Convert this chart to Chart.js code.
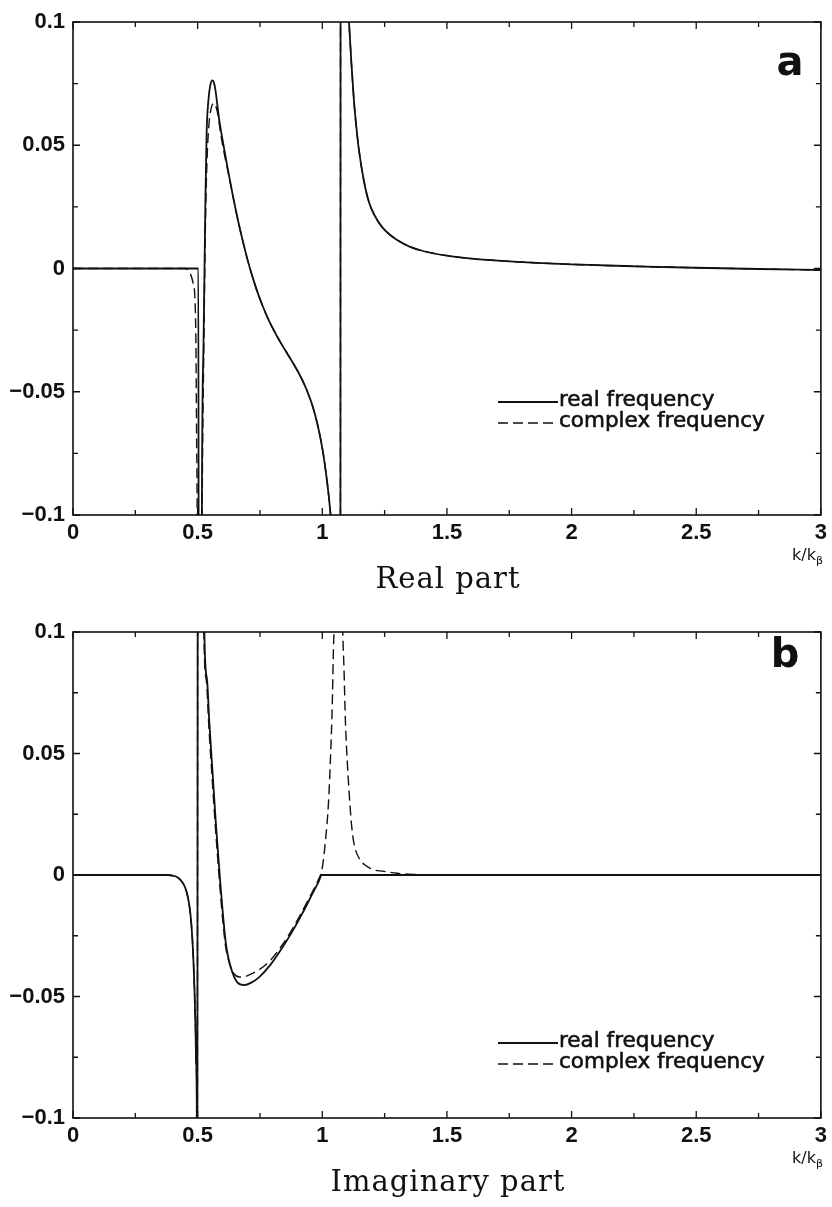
<!DOCTYPE html>
<html>
<head>
<meta charset="utf-8">
<script src="https://cdn.jsdelivr.net/npm/chart.js@4.4.1/dist/chart.umd.min.js"></script>
<style>
  body { margin: 0; background: #fff; }
  #page { position: relative; width: 832px; height: 1207px; overflow: hidden; background: #fff; }
  .panel { position: absolute; left: 0; width: 832px; height: 560px; }
  .caption { position: absolute; left: 73px; width: 750px; text-align: center; font-family: "DejaVu Serif", serif; font-size: 29px; letter-spacing: 1px; line-height: 30px; color: #111; }
  .unit { position: absolute; right: 9px; font-family: "DejaVu Sans", sans-serif; font-size: 16px; line-height: 18px; color: #111; }
  .unit sub { font-size: 11px; vertical-align: -4px; }
</style>
</head>
<body>
<div id="page">
  <div class="panel" style="top:0"><canvas id="realChart" width="832" height="560"></canvas></div>
  <div class="unit" style="top:546px">k/k<sub>β</sub></div>
  <div class="caption" style="top:563px">Real part</div>
  <div class="panel" style="top:600px"><canvas id="imagChart" width="832" height="560"></canvas></div>
  <div class="unit" style="top:1149px">k/k<sub>β</sub></div>
  <div class="caption" style="top:1166px">Imaginary part</div>
</div>
<script>
// axis ticks
const xTickValues = [0, 0.5, 1, 1.5, 2, 2.5, 3];
const xTickLabels = ['0', '0.5', '1', '1.5', '2', '2.5', '3'];
const xMinorValues = [0.25, 0.75, 1.25, 1.75, 2.25, 2.75];
const yTickValues = [-0.1, -0.05, 0, 0.05, 0.1];
const yTickLabels = ['\u22120.1', '\u22120.05', '0', '0.05', '0.1'];
const yMinorValues = [-0.075, -0.025, 0.025, 0.075];

const seriesNames = ['real frequency', 'complex frequency'];

// (a) real part, real frequency
const aSolidK = [0, 0.503, 0.5045, 0.515, 0.517, 0.524, 0.531, 0.536, 0.543, 0.551, 0.56, 0.566, 0.572, 0.578, 0.587, 0.6, 0.62, 0.64, 0.66, 0.68, 0.7, 0.72, 0.74, 0.76, 0.78, 0.8, 0.82, 0.84, 0.86, 0.88, 0.9, 0.92, 0.94, 0.96, 0.98, 1.0, 1.015, 1.027, 1.035, 1.045, 1.072, 1.074, 1.09, 1.107, 1.117, 1.127, 1.137, 1.147, 1.167, 1.187, 1.21, 1.24, 1.27, 1.3, 1.35, 1.4, 1.5, 1.6, 1.75, 2.0, 2.25, 2.5, 2.75, 3.0];
const aSolidV = [0, 0, -0.2, -0.2, -0.1, -0.027, 0.027, 0.055, 0.068, 0.0745, 0.0763, 0.0752, 0.072, 0.0672, 0.06, 0.0522, 0.0408, 0.0302, 0.0204, 0.0116, 0.0036, -0.0034, -0.0096, -0.015, -0.0198, -0.024, -0.0278, -0.0313, -0.0346, -0.0379, -0.0414, -0.0453, -0.0499, -0.0555, -0.0629, -0.0729, -0.0831, -0.0933, -0.1013, -0.1143, -0.4, 0.4, 0.14, 0.1, 0.083, 0.068, 0.057, 0.048, 0.0355, 0.027, 0.0215, 0.0168, 0.0138, 0.0116, 0.0089, 0.0072, 0.0052, 0.004, 0.0029, 0.0017, 0.0009, 0.0003, -0.0002, -0.0006];

// (a) real part, complex frequency
const aDashK = [0, 0.45, 0.47, 0.482, 0.489, 0.493, 0.496, 0.498, 0.5, 0.514, 0.518, 0.525, 0.532, 0.538, 0.545, 0.553, 0.561, 0.567, 0.574, 0.582, 0.592, 0.605, 0.62, 0.64, 0.66, 0.68, 0.7, 0.72, 0.74, 0.76, 0.78, 0.8, 0.82, 0.84, 0.86, 0.88, 0.9, 0.92, 0.94, 0.96, 0.98, 1.0, 1.015, 1.027, 1.035, 1.045, 1.072, 1.074, 1.09, 1.107, 1.117, 1.127, 1.137, 1.147, 1.167, 1.187, 1.21, 1.24, 1.27, 1.3, 1.35, 1.4, 1.5, 1.6, 1.75, 2.0, 2.25, 2.5, 2.75, 3.0];
const aDashV = [0, 0, -0.002, -0.006, -0.012, -0.03, -0.07, -0.1, -0.2, -0.2, -0.1, -0.03, 0.022, 0.045, 0.058, 0.0645, 0.0668, 0.067, 0.0655, 0.062, 0.055, 0.0475, 0.0402, 0.0302, 0.0204, 0.0116, 0.0036, -0.0034, -0.0096, -0.015, -0.0198, -0.024, -0.0278, -0.0313, -0.0346, -0.0379, -0.0414, -0.0453, -0.0499, -0.0555, -0.0629, -0.0729, -0.0831, -0.0933, -0.1013, -0.1143, -0.4, 0.4, 0.14, 0.1, 0.083, 0.068, 0.057, 0.048, 0.0355, 0.027, 0.0215, 0.0168, 0.0138, 0.0116, 0.0089, 0.0072, 0.0052, 0.004, 0.0029, 0.0017, 0.0009, 0.0003, -0.0002, -0.0006];

// (b) imaginary part, real frequency
const bSolidK = [0, 0.38, 0.4, 0.42, 0.435, 0.447, 0.457, 0.465, 0.472, 0.478, 0.483, 0.487, 0.491, 0.494, 0.4965, 0.498, 0.499, 0.5, 0.5005, 0.522, 0.527, 0.537, 0.547, 0.56, 0.573, 0.583, 0.593, 0.603, 0.613, 0.625, 0.64, 0.66, 0.687, 0.715, 0.747, 0.79, 0.84, 0.88, 0.92, 0.96, 0.985, 0.998, 1.5, 2.0, 2.5, 3.0];
const bSolidV = [0, 0, -0.0003, -0.001, -0.0025, -0.0045, -0.0075, -0.0115, -0.017, -0.025, -0.035, -0.046, -0.061, -0.077, -0.095, -0.25, -0.1, 0.1, 0.25, 0.25, 0.1, 0.081, 0.0625, 0.042, 0.0214, 0.0075, -0.006, -0.018, -0.028, -0.035, -0.0403, -0.0443, -0.0453, -0.0443, -0.042, -0.0372, -0.0298, -0.0232, -0.0158, -0.0078, -0.0028, 0, 0, 0, 0, 0];

// (b) imaginary part, complex frequency
const bDashK = [0, 0.38, 0.4, 0.42, 0.435, 0.447, 0.457, 0.465, 0.472, 0.478, 0.483, 0.487, 0.491, 0.494, 0.4965, 0.498, 0.499, 0.5, 0.5005, 0.52, 0.525, 0.535, 0.545, 0.558, 0.571, 0.581, 0.591, 0.601, 0.613, 0.627, 0.645, 0.667, 0.69, 0.72, 0.747, 0.79, 0.84, 0.88, 0.92, 0.96, 0.985, 1.0, 1.013, 1.025, 1.033, 1.04, 1.044, 1.049, 1.065, 1.08, 1.087, 1.093, 1.1, 1.107, 1.117, 1.127, 1.15, 1.173, 1.21, 1.24, 1.3, 1.347, 1.5, 2.0, 2.5, 3.0];
const bDashV = [0, 0, -0.0003, -0.001, -0.0025, -0.0045, -0.0075, -0.0115, -0.017, -0.025, -0.035, -0.046, -0.061, -0.077, -0.095, -0.25, -0.1, 0.1, 0.25, 0.25, 0.1, 0.08, 0.061, 0.04, 0.02, 0.006, -0.007, -0.019, -0.03, -0.036, -0.0405, -0.042, -0.0418, -0.0405, -0.039, -0.0353, -0.0287, -0.0222, -0.0148, -0.007, -0.0018, 0.003, 0.0144, 0.03, 0.0486, 0.07, 0.09, 0.11, 0.25, 0.11, 0.085, 0.0625, 0.047, 0.035, 0.021, 0.013, 0.0065, 0.004, 0.002, 0.0016, 0.0007, 0.0003, 0, 0, 0, 0];

const ink = '#111';
const tickFont = { family: '"Liberation Sans", Arial, sans-serif', size: 22, weight: 'bold' };

function pairs(ks, vs) {
    return ks.map((k, i) => ({ x: k, y: vs[i] }));
}

// frame, inward ticks, legend and panel letter
const panelDecor = {
    id: 'panelDecor',
    afterDatasetsDraw(chart, args, opts) {
        const ctx = chart.ctx;
        const a = chart.chartArea;
        const x = chart.scales.x;
        const y = chart.scales.y;
        ctx.save();
        ctx.strokeStyle = ink;
        ctx.lineWidth = 1.6;
        ctx.setLineDash([]);
        ctx.strokeRect(a.left, a.top, a.right - a.left, a.bottom - a.top);

        ctx.lineWidth = 1.3;
        ctx.beginPath();
        xTickValues.concat(xMinorValues).forEach(v => {
            const px = x.getPixelForValue(v);
            const len = xTickValues.includes(v) ? 7 : 5;
            ctx.moveTo(px, a.bottom); ctx.lineTo(px, a.bottom - len);
            ctx.moveTo(px, a.top); ctx.lineTo(px, a.top + len);
        });
        yTickValues.concat(yMinorValues).forEach(v => {
            const py = y.getPixelForValue(v);
            const len = yTickValues.includes(v) ? 7 : 5;
            ctx.moveTo(a.left, py); ctx.lineTo(a.left + len, py);
            ctx.moveTo(a.right, py); ctx.lineTo(a.right - len, py);
        });
        ctx.stroke();

        // legend
        const lg = opts.legend;
        chart.data.datasets.forEach((ds, i) => {
            const yy = lg.y + i * 21;
            ctx.strokeStyle = ds.borderColor;
            ctx.lineWidth = ds.borderWidth;
            ctx.setLineDash(ds.borderDash || []);
            ctx.beginPath();
            ctx.moveTo(lg.x, yy);
            ctx.lineTo(lg.x + 60, yy);
            ctx.stroke();
            ctx.setLineDash([]);
            ctx.fillStyle = ink;
            ctx.strokeStyle = ink;
            ctx.lineWidth = 0.6;
            ctx.font = '21.5px "DejaVu Sans", sans-serif';
            ctx.textAlign = 'left';
            ctx.textBaseline = 'alphabetic';
            ctx.fillText(ds.label, lg.x + 61, yy + 4);
            ctx.strokeText(ds.label, lg.x + 61, yy + 4);
        });

        // panel letter
        ctx.fillStyle = ink;
        ctx.font = 'bold 40px "DejaVu Sans", sans-serif';
        ctx.textAlign = 'center';
        ctx.textBaseline = 'alphabetic';
        ctx.fillText(opts.letter.text, opts.letter.x, opts.letter.y);
        ctx.restore();
    }
};

function CreatePanel(canvasId, solid, dashed, pad, letter, legend) {
    const data = {
        datasets: [{
            label: seriesNames[0],
            data: solid,
            borderColor: ink,
            borderWidth: 1.8,
            pointRadius: 0,
            cubicInterpolationMode: 'monotone',
            fill: false
        }, {
            label: seriesNames[1],
            data: dashed,
            borderColor: ink,
            borderWidth: 1.4,
            borderDash: [10, 5],
            pointRadius: 0,
            cubicInterpolationMode: 'monotone',
            fill: false
        }]
    };
    const config = {
        type: 'line',
        data: data,
        options: {
            responsive: false,
            animation: false,
            devicePixelRatio: 1,
            elements: { line: { capBezierPoints: false } },
            layout: { padding: pad },
            scales: {
                x: {
                    type: 'linear',
                    min: 0,
                    max: 3,
                    grid: { display: false, drawTicks: false },
                    border: { display: false },
                    afterBuildTicks: s => { s.ticks = xTickValues.map(v => ({ value: v })); },
                    afterFit: s => { s.height = 30; },
                    ticks: {
                        autoSkip: false,
                        maxRotation: 0,
                        padding: 5,
                        color: ink,
                        font: tickFont,
                        callback: (v, i) => xTickLabels[i]
                    }
                },
                y: {
                    min: -0.1,
                    max: 0.1,
                    grid: { display: false, drawTicks: false },
                    border: { display: false },
                    afterBuildTicks: s => { s.ticks = yTickValues.map(v => ({ value: v })); },
                    afterFit: s => { s.width = 73; },
                    ticks: {
                        padding: 8,
                        color: ink,
                        font: tickFont,
                        callback: (v, i) => yTickLabels[i]
                    }
                }
            },
            plugins: {
                legend: { display: false },
                tooltip: { enabled: false },
                panelDecor: { letter: letter, legend: legend }
            }
        },
        plugins: [panelDecor]
    };
    return new Chart(document.getElementById(canvasId), config);
}

CreatePanel('realChart', pairs(aSolidK, aSolidV), pairs(aDashK, aDashV),
    { top: 22, right: 9, bottom: 15, left: 0 },
    { text: 'a', x: 790, y: 75 },
    { x: 498, y: 402 });

CreatePanel('imagChart', pairs(bSolidK, bSolidV), pairs(bDashK, bDashV),
    { top: 32, right: 9, bottom: 12, left: 0 },
    { text: 'b', x: 785, y: 67 },
    { x: 498, y: 443 });
</script>
</body>
</html>
